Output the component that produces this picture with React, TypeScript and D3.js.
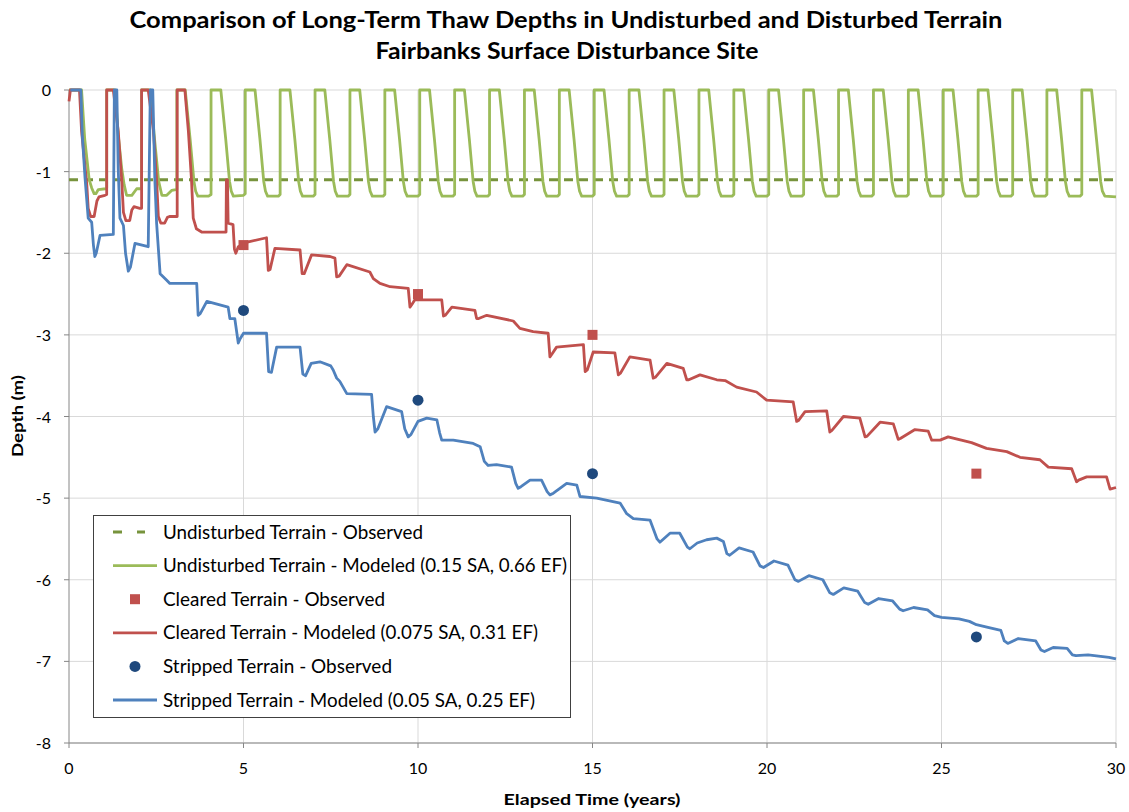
import React from "react";
import * as d3 from "d3";

type P = [number, number];

const titleLines = [
  "Comparison of Long-Term Thaw Depths in Undisturbed and Disturbed Terrain",
  "Fairbanks Surface Disturbance Site",
];
const xTicks = [0, 5, 10, 15, 20, 25, 30];
const yTicks = [0, -1, -2, -3, -4, -5, -6, -7, -8];
const xLabel = "Elapsed Time (years)";
const yLabel = "Depth (m)";

const legendLabels = [
  "Undisturbed Terrain - Observed",
  "Undisturbed Terrain - Modeled (0.15 SA, 0.66 EF)",
  "Cleared Terrain - Observed",
  "Cleared Terrain - Modeled (0.075 SA, 0.31 EF)",
  "Stripped Terrain - Observed",
  "Stripped Terrain - Modeled (0.05 SA, 0.25 EF)",
];
const legendWidths = [260, 404, 222, 375, 229, 372];

const undisturbedObserved: P[] = [[0, -1.1], [30, -1.1]];

const undisturbedModeled: P[] = [
  [0, 0], [0.36, 0], [0.45, -0.6], [0.58, -1.1], [0.65, -1.2], [0.72, -1.27], [0.77, -1.27], [0.84, -1.22], [1.05, -1.21], [1.08, -1.2],
  [1.08, 0], [1.32, 0], [1.41, -0.55], [1.51, -0.96], [1.58, -1.16], [1.65, -1.29], [1.8, -1.29], [1.94, -1.21], [2.05, -1.21], [2.08, -1.2],
  [2.08, 0], [2.33, 0], [2.45, -0.6], [2.57, -1.12], [2.66, -1.29], [2.8, -1.29], [2.94, -1.23], [3.07, -1.22], [3.09, -1.22],
  [3.09, 0], [3.33, 0], [3.47, -0.6], [3.58, -1.12], [3.63, -1.24], [3.69, -1.3], [4.0, -1.3], [4.07, -1.28],
  [4.07, 0], [4.35, 0], [4.49, -0.6], [4.6, -1.12], [4.65, -1.24], [4.71, -1.3], [5.0, -1.29], [5.05, -1.27],
  [5.05, 0], [5.33, 0], [5.47, -0.6], [5.58, -1.12], [5.63, -1.24], [5.69, -1.3], [6.0, -1.3], [6.05, -1.28],
  [6.05, 0], [6.33, 0], [6.47, -0.6], [6.58, -1.12], [6.63, -1.24], [6.69, -1.3], [7.0, -1.3], [7.05, -1.28],
  [7.05, 0], [7.33, 0], [7.47, -0.6], [7.58, -1.12], [7.63, -1.24], [7.69, -1.3], [8.0, -1.3], [8.05, -1.28],
  [8.05, 0], [8.33, 0], [8.47, -0.6], [8.58, -1.12], [8.63, -1.24], [8.69, -1.3], [9.0, -1.3], [9.05, -1.28],
  [9.05, 0], [9.33, 0], [9.47, -0.6], [9.58, -1.12], [9.63, -1.24], [9.69, -1.3], [10.0, -1.3], [10.05, -1.28],
  [10.05, 0], [10.33, 0], [10.47, -0.6], [10.58, -1.12], [10.63, -1.24], [10.69, -1.3], [11.0, -1.3], [11.05, -1.28],
  [11.05, 0], [11.33, 0], [11.47, -0.6], [11.58, -1.12], [11.63, -1.24], [11.69, -1.3], [12.0, -1.3], [12.05, -1.28],
  [12.05, 0], [12.33, 0], [12.47, -0.6], [12.58, -1.12], [12.63, -1.24], [12.69, -1.3], [13.0, -1.3], [13.05, -1.28],
  [13.05, 0], [13.33, 0], [13.47, -0.6], [13.58, -1.12], [13.63, -1.24], [13.69, -1.3], [14.0, -1.3], [14.05, -1.28],
  [14.05, 0], [14.33, 0], [14.47, -0.6], [14.58, -1.12], [14.63, -1.24], [14.69, -1.3], [15.0, -1.3], [15.05, -1.28],
  [15.05, 0], [15.33, 0], [15.47, -0.6], [15.58, -1.12], [15.63, -1.24], [15.69, -1.3], [16.0, -1.3], [16.05, -1.28],
  [16.05, 0], [16.33, 0], [16.47, -0.6], [16.58, -1.12], [16.63, -1.24], [16.69, -1.3], [17.0, -1.3], [17.05, -1.28],
  [17.05, 0], [17.33, 0], [17.47, -0.6], [17.58, -1.12], [17.63, -1.24], [17.69, -1.3], [18.0, -1.3], [18.05, -1.28],
  [18.05, 0], [18.33, 0], [18.47, -0.6], [18.58, -1.12], [18.63, -1.24], [18.69, -1.3], [19.0, -1.3], [19.05, -1.28],
  [19.05, 0], [19.33, 0], [19.47, -0.6], [19.58, -1.12], [19.63, -1.24], [19.69, -1.3], [20.0, -1.3], [20.05, -1.28],
  [20.05, 0], [20.33, 0], [20.47, -0.6], [20.58, -1.12], [20.63, -1.24], [20.69, -1.3], [21.0, -1.3], [21.05, -1.28],
  [21.05, 0], [21.33, 0], [21.47, -0.6], [21.58, -1.12], [21.63, -1.24], [21.69, -1.3], [22.0, -1.3], [22.05, -1.28],
  [22.05, 0], [22.33, 0], [22.47, -0.6], [22.58, -1.12], [22.63, -1.24], [22.69, -1.3], [23.0, -1.3], [23.05, -1.28],
  [23.05, 0], [23.33, 0], [23.47, -0.6], [23.58, -1.12], [23.63, -1.24], [23.69, -1.3], [24.0, -1.3], [24.05, -1.28],
  [24.05, 0], [24.33, 0], [24.47, -0.6], [24.58, -1.12], [24.63, -1.24], [24.69, -1.3], [25.0, -1.3], [25.05, -1.28],
  [25.05, 0], [25.33, 0], [25.47, -0.6], [25.58, -1.12], [25.63, -1.24], [25.69, -1.3], [26.0, -1.3], [26.05, -1.28],
  [26.05, 0], [26.33, 0], [26.47, -0.6], [26.58, -1.12], [26.63, -1.24], [26.69, -1.3], [26.99, -1.3], [27.04, -1.28],
  [27.04, 0], [27.31, 0], [27.45, -0.6], [27.56, -1.12], [27.61, -1.24], [27.67, -1.3], [27.97, -1.3], [28.02, -1.28],
  [28.02, 0], [28.3, 0], [28.44, -0.6], [28.55, -1.12], [28.6, -1.24], [28.66, -1.3], [28.97, -1.3], [29.02, -1.28],
  [29.02, 0], [29.3, 0], [29.44, -0.6], [29.56, -1.12], [29.61, -1.24], [29.68, -1.3], [30, -1.31],
];

const clearedObserved: P[] = [[5, -1.9], [10, -2.5], [15, -3.0], [26, -4.7]];

const clearedModeled: P[] = [
  [0, -0.14], [0.04, 0], [0.3, 0], [0.36, -0.5], [0.51, -1.16], [0.55, -1.45], [0.62, -1.55], [0.72, -1.55], [0.8, -1.36], [0.86, -1.31], [1.03, -1.29], [1.08, -1.28],
  [1.08, 0], [1.27, 0], [1.41, -0.5], [1.51, -1.1], [1.56, -1.5], [1.63, -1.6], [1.74, -1.6], [1.8, -1.47], [1.86, -1.43], [2.03, -1.45], [2.08, -1.45],
  [2.08, 0], [2.27, 0], [2.42, -0.5], [2.51, -1.1], [2.56, -1.55], [2.63, -1.63], [2.74, -1.63], [2.82, -1.56], [2.88, -1.55], [3.1, -1.55],
  [3.1, 0], [3.32, 0], [3.42, -0.5], [3.51, -1.1], [3.56, -1.57], [3.65, -1.7], [3.8, -1.74], [4.5, -1.74],
  [4.51, -1.1], [4.54, -1.1], [4.56, -1.63], [4.7, -1.65], [4.74, -1.95], [4.78, -2.0], [4.85, -1.92], [5.14, -1.86], [5.66, -1.81],
  [5.71, -2.21], [5.76, -2.2], [5.9, -1.94], [6.62, -1.96], [6.68, -2.25], [6.74, -2.25], [6.95, -2.02], [7.48, -2.04], [7.62, -2.06],
  [7.67, -2.29], [7.74, -2.28], [7.96, -2.14], [8.62, -2.23], [8.72, -2.31], [8.91, -2.37], [9.2, -2.41], [9.72, -2.43],
  [9.77, -2.66], [9.82, -2.63], [9.91, -2.57], [10.68, -2.57], [10.73, -2.77], [10.78, -2.76], [10.97, -2.66], [11.63, -2.7],
  [11.68, -2.8], [11.74, -2.8], [11.97, -2.76], [12.73, -2.83], [12.92, -2.92], [13.3, -2.96], [13.73, -2.98],
  [13.78, -3.27], [13.83, -3.24], [13.97, -3.15], [14.74, -3.12], [14.79, -3.45], [14.85, -3.43], [15.02, -3.21], [15.64, -3.22],
  [15.74, -3.49], [15.8, -3.47], [16.07, -3.27], [16.65, -3.31], [16.74, -3.53], [16.8, -3.52], [17.13, -3.35], [17.6, -3.41],
  [17.7, -3.55], [17.76, -3.55], [18.08, -3.49], [18.56, -3.55], [18.8, -3.56], [19.13, -3.64], [19.7, -3.7], [19.99, -3.8],
  [20.75, -3.82], [20.85, -4.06], [20.9, -4.05], [21.09, -3.94], [21.71, -3.93], [21.8, -4.19], [21.86, -4.17], [22.19, -4.0],
  [22.66, -4.02], [22.81, -4.25], [22.87, -4.24], [23.24, -4.07], [23.62, -4.09], [23.76, -4.28], [23.82, -4.27], [24.24, -4.16],
  [24.62, -4.18], [24.72, -4.29], [24.96, -4.29], [25.19, -4.25], [25.86, -4.32], [26.29, -4.39], [26.87, -4.43], [27.25, -4.5],
  [27.82, -4.53], [28.06, -4.62], [28.73, -4.64], [28.87, -4.8], [28.93, -4.78], [29.16, -4.74], [29.73, -4.74], [29.83, -4.89], [30, -4.87],
];

const strippedObserved: P[] = [[5, -2.7], [10, -3.8], [15, -4.7], [26, -6.7]];

const strippedModeled: P[] = [
  [0.04, 0], [0.34, 0], [0.38, -0.55], [0.46, -1.08], [0.55, -1.57], [0.65, -1.62], [0.7, -1.9], [0.74, -2.04], [0.78, -2.0], [0.89, -1.78], [1.27, -1.77],
  [1.3, 0], [1.37, 0], [1.41, -0.96], [1.46, -1.57], [1.56, -1.66], [1.62, -2.0], [1.7, -2.22], [1.76, -2.17], [1.89, -1.88], [2.27, -1.92],
  [2.33, 0], [2.4, 0], [2.46, -1.1], [2.51, -1.63], [2.61, -2.25], [2.8, -2.33], [2.89, -2.37], [3.66, -2.37],
  [3.7, -2.76], [3.76, -2.74], [3.95, -2.59], [4.56, -2.66], [4.61, -2.8], [4.75, -2.8], [4.85, -3.1], [4.9, -3.05], [5.0, -2.98], [5.66, -2.98],
  [5.72, -3.45], [5.8, -3.46], [5.95, -3.15], [6.62, -3.15], [6.7, -3.48], [6.78, -3.5], [6.94, -3.35], [7.19, -3.33], [7.5, -3.38],
  [7.57, -3.43], [7.67, -3.53], [7.76, -3.57], [7.96, -3.72], [8.67, -3.73], [8.72, -4.0], [8.77, -4.19], [8.85, -4.15], [9.1, -3.88],
  [9.53, -3.94], [9.62, -4.15], [9.72, -4.25], [9.8, -4.22], [10.0, -4.06], [10.25, -4.02], [10.54, -4.04], [10.62, -4.2], [10.68, -4.29],
  [11.01, -4.29], [11.58, -4.33], [11.78, -4.37], [11.9, -4.55], [12.01, -4.6], [12.25, -4.59], [12.68, -4.62], [12.8, -4.82], [12.87, -4.88],
  [12.95, -4.86], [13.21, -4.78], [13.54, -4.78], [13.7, -4.92], [13.78, -4.96], [13.88, -4.94], [14.26, -4.82], [14.55, -4.84], [14.64, -4.98],
  [15.12, -5.0], [15.79, -5.06], [15.98, -5.19], [16.17, -5.25], [16.65, -5.27], [16.85, -5.5], [16.93, -5.54], [17.22, -5.43], [17.5, -5.43],
  [17.72, -5.6], [17.79, -5.62], [18.0, -5.55], [18.27, -5.51], [18.56, -5.49], [18.75, -5.53], [18.85, -5.68], [18.93, -5.7], [19.2, -5.61],
  [19.6, -5.66], [19.8, -5.83], [19.9, -5.85], [20.2, -5.77], [20.6, -5.82], [20.8, -6.0], [20.9, -6.02], [21.2, -5.95], [21.6, -6.0],
  [21.8, -6.16], [21.9, -6.18], [22.2, -6.1], [22.6, -6.14], [22.8, -6.28], [22.9, -6.3], [23.2, -6.23], [23.6, -6.26], [23.8, -6.36],
  [23.9, -6.38], [24.2, -6.34], [24.6, -6.37], [24.8, -6.44], [25.0, -6.46], [25.5, -6.48], [25.8, -6.51], [26.0, -6.55], [26.3, -6.58],
  [26.7, -6.62], [26.8, -6.75], [26.9, -6.78], [27.2, -6.72], [27.7, -6.75], [27.85, -6.86], [27.95, -6.88], [28.2, -6.83], [28.6, -6.84],
  [28.75, -6.92], [28.85, -6.93], [29.2, -6.92], [29.8, -6.95], [30, -6.97],
];

const C_GREEN_OBS = "#77933C";
const C_GREEN = "#9BBB59";
const C_RED = "#C0504D";
const C_BLUE = "#4F81BD";
const C_BLUE_DOT = "#1F497D";

export default function App() {
  const W = 1129;
  const H = 812;
  const x = d3.scaleLinear().domain([0, 30]).range([69, 1116]);
  const y = d3.scaleLinear().domain([-8, 0]).range([743, 90]);
  const line = d3
    .line<P>()
    .x((d) => x(d[0]))
    .y((d) => y(d[1]))
    .curve(d3.curveLinear);

  const font = "Lato, 'Open Sans', sans-serif";
  const legX = 93;
  const legY = 515;
  const legW = 477;
  const legH = 202;
  const rowY = (i: number) => 532 + i * 33.6;
  const sw = 2.8;

  return (
    <div style={{ position: "absolute", left: 0, top: 0 }}>
      <svg width={W} height={H} style={{ display: "block", background: "#fff" }}>
        <rect x={0} y={0} width={W} height={H} fill="#fff" />
        {/* title */}
        <text x={566} y={28} textAnchor="middle" fontFamily={font} fontWeight={700} fontSize={23}
          textLength={873} lengthAdjust="spacingAndGlyphs" fill="#000">{titleLines[0]}</text>
        <text x={567} y={59} textAnchor="middle" fontFamily={font} fontWeight={700} fontSize={23}
          textLength={383} lengthAdjust="spacingAndGlyphs" fill="#000">{titleLines[1]}</text>

        {/* gridlines */}
        {yTicks.map((t) => (
          <line key={"gy" + t} x1={x(0)} x2={x(30)} y1={y(t)} y2={y(t)} stroke="#D9D9D9" strokeWidth={1} />
        ))}
        {xTicks.filter((t) => t > 0).map((t) => (
          <line key={"gx" + t} x1={x(t)} x2={x(t)} y1={y(0)} y2={y(-8)} stroke="#D9D9D9" strokeWidth={1} />
        ))}
        {/* axes */}
        <line x1={x(0)} x2={x(0)} y1={y(0)} y2={y(-8)} stroke="#868686" strokeWidth={1} />
        <line x1={x(0)} x2={x(30)} y1={y(-8)} y2={y(-8)} stroke="#868686" strokeWidth={1} />
        {yTicks.map((t) => (
          <line key={"ty" + t} x1={x(0) - 5} x2={x(0)} y1={y(t)} y2={y(t)} stroke="#868686" />
        ))}
        {xTicks.map((t) => (
          <line key={"tx" + t} x1={x(t)} x2={x(t)} y1={y(-8)} y2={y(-8) + 5} stroke="#868686" />
        ))}
        {yTicks.map((t) => (
          <text key={"ly" + t} x={x(0) - 18} y={y(t) + 6} textAnchor="end" fontFamily={font} fontSize={16} fill="#000">
            {t === 0 ? "0" : "-" + Math.abs(t)}
          </text>
        ))}
        {xTicks.map((t) => (
          <text key={"lx" + t} x={x(t)} y={y(-8) + 31} textAnchor="middle" fontFamily={font} fontSize={16} fill="#000">
            {t}
          </text>
        ))}
        <text x={592} y={805} textAnchor="middle" fontFamily={font} fontWeight={700} fontSize={16}
          textLength={177} lengthAdjust="spacingAndGlyphs" fill="#000">{xLabel}</text>
        <text transform={`translate(23,416) rotate(-90)`} textAnchor="middle" fontFamily={font} fontWeight={700}
          fontSize={16} textLength={82} lengthAdjust="spacingAndGlyphs" fill="#000">{yLabel}</text>

        {/* series */}
        <path d={line(undisturbedObserved) || ""} fill="none" stroke={C_GREEN_OBS} strokeWidth={3} strokeDasharray="9 6" />
        <path d={line(undisturbedModeled) || ""} fill="none" stroke={C_GREEN} strokeWidth={sw} strokeLinejoin="round" />
        <path d={line(clearedModeled) || ""} fill="none" stroke={C_RED} strokeWidth={sw} strokeLinejoin="round" />
        {clearedObserved.map((d, i) => (
          <rect key={"co" + i} x={x(d[0]) - 5} y={y(d[1]) - 5} width={10} height={10} fill={C_RED} />
        ))}
        <path d={line(strippedModeled) || ""} fill="none" stroke={C_BLUE} strokeWidth={sw} strokeLinejoin="round" />
        {strippedObserved.map((d, i) => (
          <circle key={"so" + i} cx={x(d[0])} cy={y(d[1])} r={5.5} fill={C_BLUE_DOT} />
        ))}

        {/* legend */}
        <rect x={legX + 0.5} y={legY + 0.5} width={legW} height={legH} fill="#fff" stroke="#404040" strokeWidth={1} />
        {legendLabels.map((lab, i) => {
          const cy = rowY(i);
          let sym: React.ReactNode = null;
          if (i === 0)
            sym = <line x1={113} x2={145} y1={cy} y2={cy} stroke={C_GREEN_OBS} strokeWidth={3} strokeDasharray="9 15" />;
          else if (i === 1) sym = <line x1={113} x2={157} y1={cy} y2={cy} stroke={C_GREEN} strokeWidth={sw} />;
          else if (i === 2) sym = <rect x={130} y={cy - 5} width={10} height={10} fill={C_RED} />;
          else if (i === 3) sym = <line x1={113} x2={157} y1={cy} y2={cy} stroke={C_RED} strokeWidth={sw} />;
          else if (i === 4) sym = <circle cx={135} cy={cy} r={5.5} fill={C_BLUE_DOT} />;
          else sym = <line x1={113} x2={157} y1={cy} y2={cy} stroke={C_BLUE} strokeWidth={sw} />;
          return (
            <g key={"lg" + i}>
              {sym}
              <text x={163} y={cy + 6.5} fontFamily={font} fontSize={18.5} fill="#000"
                textLength={legendWidths[i]} lengthAdjust="spacingAndGlyphs">{lab}</text>
            </g>
          );
        })}
      </svg>
    </div>
  );
}
